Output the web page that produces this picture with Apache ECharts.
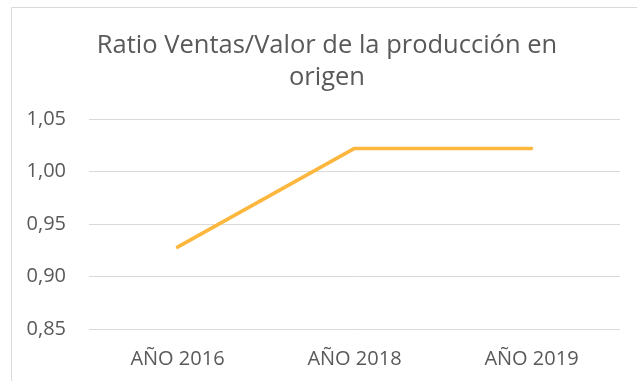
<!DOCTYPE html>
<html>
<head>
<meta charset="utf-8">
<script src="https://cdn.jsdelivr.net/npm/echarts@6/dist/echarts.min.js"></script>
<style>
  html, body { margin: 0; padding: 0; background: #fff; }
  #chart { width: 637px; height: 381px; }
</style>
</head>
<body>
<div id="chart"></div>
<script>
// Ratio data per year
const categories = ['AÑO 2016', 'AÑO 2018', 'AÑO 2019'];
const ratioValues = [0.928, 1.022, 1.022];
const titleLines = ['Ratio Ventas/Valor de la producción en', 'origen'];

const chart = echarts.init(document.getElementById('chart'));
const textColor = '#595959';
const fontFamily = '"Open Sans", "Liberation Sans", sans-serif';

chart.setOption({
  animation: false,
  graphic: [{
    type: 'rect',
    shape: { x: 11.5, y: 7.5, width: 700, height: 500 },
    style: { fill: 'none', stroke: '#d9d9d9', lineWidth: 1 },
    silent: true
  }],
  title: {
    text: titleLines.join('\n'),
    left: 322,
    textAlign: 'center',
    top: 25,
    textStyle: {
      color: textColor,
      fontFamily: fontFamily,
      fontWeight: 'normal',
      fontSize: 25.5,
      lineHeight: 32
    }
  },
  grid: { left: 89, right: 17, top: 119, bottom: 52, containLabel: false },
  xAxis: {
    type: 'category',
    data: categories,
    boundaryGap: true,
    axisLine: { show: false },
    axisTick: { show: false },
    axisLabel: { color: textColor, fontFamily: fontFamily, fontSize: 20, margin: 20 }
  },
  yAxis: {
    type: 'value',
    min: 0.85,
    max: 1.05,
    interval: 0.05,
    axisLine: { show: false },
    axisTick: { show: false },
    splitLine: { lineStyle: { color: '#d9d9d9', width: 1 } },
    axisLabel: {
      color: textColor,
      fontFamily: fontFamily,
      fontSize: 20,
      margin: 23,
      formatter: v => v.toFixed(2).replace('.', ',')
    }
  },
  series: [{
    type: 'line',
    data: ratioValues,
    symbol: 'none',
    lineStyle: { color: '#FDB73E', width: 3.5, cap: 'round' }
  }]
});
</script>
</body>
</html>
